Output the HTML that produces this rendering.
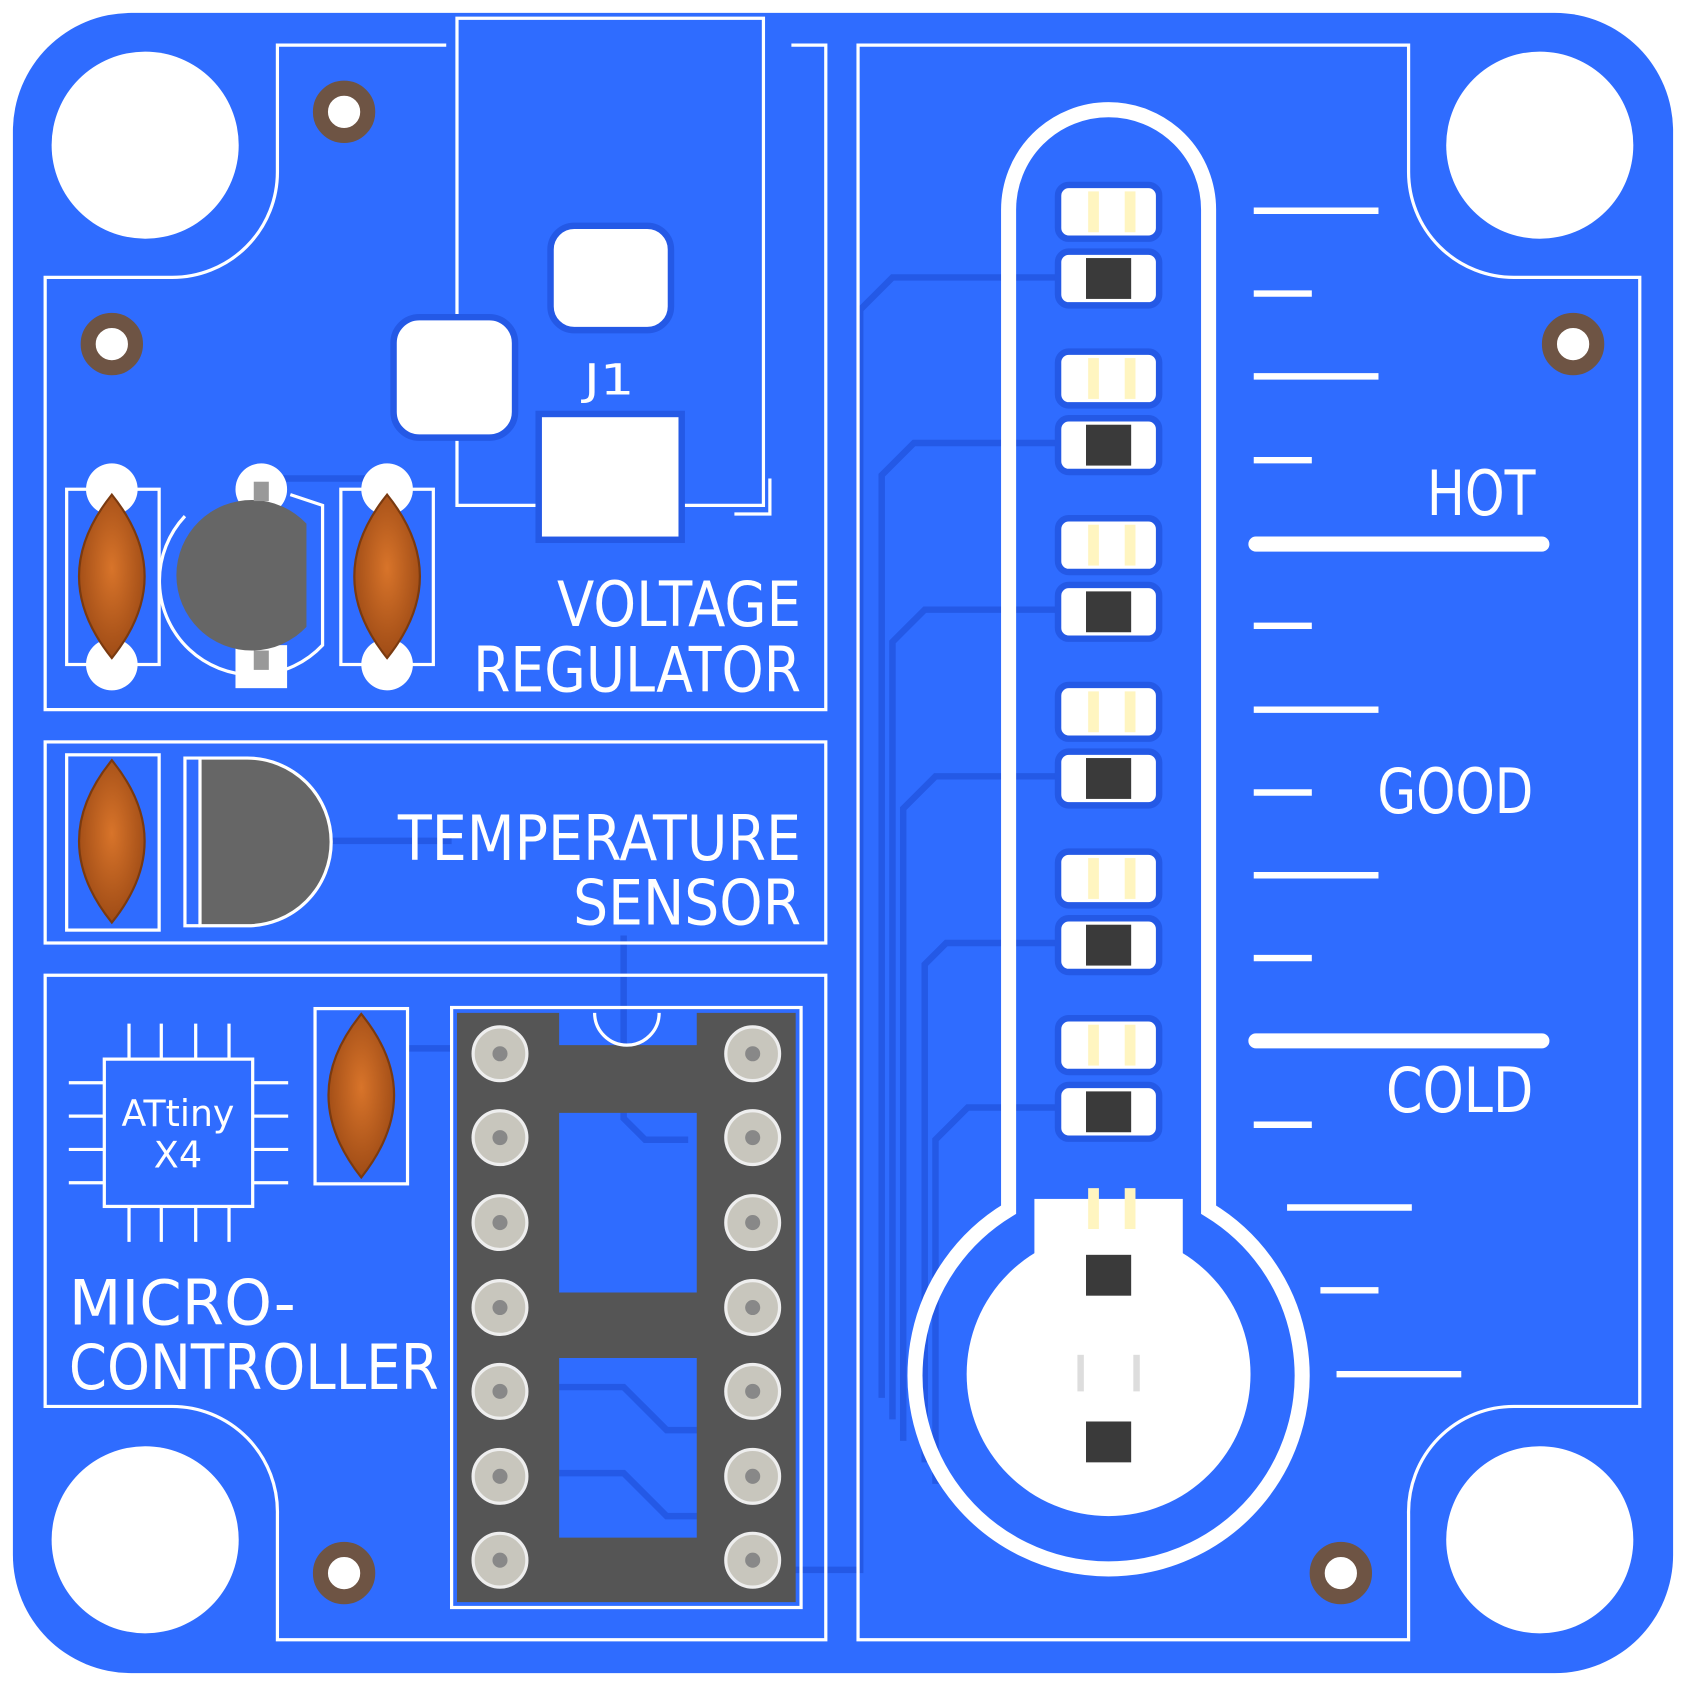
<!DOCTYPE html>
<html><head><meta charset="utf-8"><style>
html,body{margin:0;padding:0;background:#fff}
svg{display:block}
text{font-family:"DejaVu Sans","Liberation Sans",sans-serif;fill:#fff}
</style></head><body>
<svg width="1686" height="1686" viewBox="0 0 1568 1568" xmlns="http://www.w3.org/2000/svg">
<rect x="12" y="12" width="1544" height="1544" rx="110" fill="#2f6cff"/>
<g stroke="#2459e6" stroke-width="6" fill="none">
<path d="M990 258 H830 L800 288 V1460 H620"/>
<path d="M990 412 H850 L820 442 V1300"/>
<path d="M990 567 H860 L830 597 V1320"/>
<path d="M990 722 H870 L840 752 V1340"/>
<path d="M990 877 H880 L860 897 V1360"/>
<path d="M990 1030 H900 L870 1060 V1380"/>
<path d="M580 870 V1040 L600 1060 H640"/>
<path d="M520 1290 H580 L620 1330 H650"/>
<path d="M520 1370 H580 L620 1410 H650"/>
<path d="M240 445 H360"/>
<path d="M300 782 H420"/>
<path d="M380 975 H420"/>
</g>
<g fill="#fff"><circle cx="135" cy="135" r="87"/><circle cx="1432" cy="135" r="87"/><circle cx="135" cy="1432" r="87"/><circle cx="1432" cy="1432" r="87"/></g>
<g fill="#fff" stroke="#6e5444" stroke-width="14"><circle cx="320" cy="104" r="22"/><circle cx="104" cy="320" r="22"/><circle cx="1463" cy="320" r="22"/><circle cx="320" cy="1463" r="22"/><circle cx="1247" cy="1463" r="22"/></g>
<g stroke="#fff" stroke-width="3" fill="none">
<path d="M415 42 H258 V160 A98 98 0 0 1 160 258 H42 V660 H768 V42 H736"/>
<rect x="42" y="690" width="726" height="187"/>
<path d="M42 907 H768 V1525 H258 V1408 A98 98 0 0 0 160 1308 H42 Z"/>
<path d="M798 42 H1310 V160 A98 98 0 0 0 1408 258 H1525 V1308 H1408 A98 98 0 0 0 1310 1408 V1525 H798 Z"/>
<path d="M425 17 H710 V470 H425 Z"/>
<path d="M683 478 H716 V445"/>
<rect x="62" y="455" width="86" height="163"/>
<rect x="317" y="455" width="86" height="163"/>
<rect x="62" y="702" width="86" height="163"/>
<rect x="293" y="938" width="86" height="163"/>
<rect x="420" y="937" width="325" height="558"/>
<rect x="97" y="985" width="138" height="137"/>
<path d="M120 985 V952 M150 985 V952 M182 985 V952 M213 985 V952 M120 1122 V1155 M150 1122 V1155 M182 1122 V1155 M213 1122 V1155 M97 1007 H64 M97 1038 H64 M97 1069 H64 M97 1100 H64 M235 1007 H268 M235 1038 H268 M235 1069 H268 M235 1100 H268"/>
<path d="M172 480 A74 74 0 0 0 300 600 V470 L270 460"/>
</g>
<g fill="#fff" stroke="#2459e6" stroke-width="6">
<rect x="512" y="210" width="112" height="97" rx="22"/>
<rect x="366" y="295" width="113" height="112" rx="24"/>
<rect x="501" y="385" width="133" height="117"/>
</g>
<text x="543" y="367" font-size="40" textLength="47" lengthAdjust="spacingAndGlyphs">J1</text>
<g fill="#fff"><circle cx="104" cy="455" r="24"/><circle cx="104" cy="618" r="24"/><circle cx="360" cy="455" r="24"/><circle cx="360" cy="618" r="24"/><circle cx="243" cy="455" r="24"/><rect x="219" y="600" width="48" height="40"/></g>
<path d="M285 487 A70 70 0 1 0 285 583 Z" fill="#666"/>
<rect x="236" y="448" width="14" height="18" fill="#999"/>
<rect x="236" y="605" width="14" height="18" fill="#999"/>
<defs><radialGradient id="cg" cx="0.5" cy="0.45" r="0.6"><stop offset="0" stop-color="#d8742a"/><stop offset="1" stop-color="#9a4814"/></radialGradient></defs>
<g fill="url(#cg)" stroke="#7a3a10" stroke-width="2">
<path d="M104 460 Q165 536 104 612 Q43 536 104 460Z"/>
<path d="M360 460 Q421 536 360 612 Q299 536 360 460Z"/>
<path d="M104 707 Q165 782 104 858 Q43 782 104 707Z"/>
<path d="M336 943 Q397 1018 336 1095 Q275 1018 336 943Z"/>
</g>
<path d="M230 705 A78 78 0 0 1 230 861 H186 V705Z" fill="#666" stroke="#fff" stroke-width="3"/>
<path d="M186 705 H172 V861 H186" fill="none" stroke="#fff" stroke-width="3"/>
<g font-size="58">
<text x="518" y="582" textLength="227" lengthAdjust="spacingAndGlyphs">VOLTAGE</text>
<text x="440" y="643" textLength="305" lengthAdjust="spacingAndGlyphs">REGULATOR</text>
<text x="370" y="800" textLength="375" lengthAdjust="spacingAndGlyphs">TEMPERATURE</text>
<text x="533" y="860" textLength="212" lengthAdjust="spacingAndGlyphs">SENSOR</text>
<text x="64" y="1232" textLength="211" lengthAdjust="spacingAndGlyphs">MICRO-</text>
<text x="64" y="1292" textLength="344" lengthAdjust="spacingAndGlyphs">CONTROLLER</text>
<text x="1327" y="479" textLength="101" lengthAdjust="spacingAndGlyphs">HOT</text>
<text x="1281" y="756" textLength="145" lengthAdjust="spacingAndGlyphs">GOOD</text>
<text x="1289" y="1034" textLength="137" lengthAdjust="spacingAndGlyphs">COLD</text>
</g>
<text x="113" y="1047" font-size="34" textLength="105" lengthAdjust="spacingAndGlyphs">ATtiny</text>
<text x="143" y="1086" font-size="34" textLength="45" lengthAdjust="spacingAndGlyphs">X4</text>
<path d="M425 942 H520 V972 H648 V942 H740 V1490 H425Z M520 1035 V1202 H648 V1035Z M520 1263 V1430 H648 V1263Z" fill="#555" fill-rule="evenodd"/>
<path d="M553 942 A30 30 0 0 0 613 942" fill="none" stroke="#fff" stroke-width="3"/>
<g fill="#c8c6bd" stroke="#eee" stroke-width="3">
<circle cx="465" cy="980" r="25"/><circle cx="465" cy="1058" r="25"/><circle cx="465" cy="1137" r="25"/><circle cx="465" cy="1216" r="25"/><circle cx="465" cy="1294" r="25"/><circle cx="465" cy="1373" r="25"/><circle cx="465" cy="1451" r="25"/>
<circle cx="700" cy="980" r="25"/><circle cx="700" cy="1058" r="25"/><circle cx="700" cy="1137" r="25"/><circle cx="700" cy="1216" r="25"/><circle cx="700" cy="1294" r="25"/><circle cx="700" cy="1373" r="25"/><circle cx="700" cy="1451" r="25"/>
</g>
<g fill="#888"><circle cx="465" cy="980" r="7"/><circle cx="465" cy="1058" r="7"/><circle cx="465" cy="1137" r="7"/><circle cx="465" cy="1216" r="7"/><circle cx="465" cy="1294" r="7"/><circle cx="465" cy="1373" r="7"/><circle cx="465" cy="1451" r="7"/><circle cx="700" cy="980" r="7"/><circle cx="700" cy="1058" r="7"/><circle cx="700" cy="1137" r="7"/><circle cx="700" cy="1216" r="7"/><circle cx="700" cy="1294" r="7"/><circle cx="700" cy="1373" r="7"/><circle cx="700" cy="1451" r="7"/></g>
<path d="M938 1125 V195 A93 93 0 0 1 1124 195 V1125 A180 180 0 1 1 938 1125Z" fill="none" stroke="#fff" stroke-width="14"/>
<circle cx="1031" cy="1278" r="132" fill="#fff"/>
<rect x="962" y="1115" width="138" height="80" fill="#fff"/>
<g id="led">
<rect x="984" y="172" width="94" height="50" rx="10" fill="#fff" stroke="#2459e6" stroke-width="6"/>
<rect x="1012" y="178" width="10" height="38" fill="#fff5c0"/><rect x="1046" y="178" width="10" height="38" fill="#fff5c0"/>
<rect x="984" y="234" width="94" height="50" rx="10" fill="#fff" stroke="#2459e6" stroke-width="6"/>
<rect x="1010" y="240" width="42" height="38" fill="#3a3a3a"/>
</g>
<use href="#led" y="155"/><use href="#led" y="310"/><use href="#led" y="465"/><use href="#led" y="620"/><use href="#led" y="775"/>
<rect x="1012" y="1105" width="10" height="38" fill="#fff5c0"/><rect x="1046" y="1105" width="10" height="38" fill="#fff5c0"/>
<rect x="1010" y="1167" width="42" height="38" fill="#3a3a3a"/>
<rect x="1010" y="1322" width="42" height="38" fill="#3a3a3a"/>
<rect x="1002" y="1260" width="6" height="34" fill="#ddd"/><rect x="1054" y="1260" width="6" height="34" fill="#ddd"/>
<g stroke="#fff" stroke-width="6">
<path d="M1166 196 H1282 M1166 273 H1220 M1166 350 H1282 M1166 428 H1220 M1166 582 H1220 M1166 660 H1282 M1166 737 H1220 M1166 814 H1282 M1166 891 H1220 M1166 1046 H1220 M1197 1123 H1313 M1228 1200 H1282 M1243 1278 H1359"/>
</g>
<g stroke="#fff" stroke-width="14" stroke-linecap="round"><path d="M1168 506 H1434 M1168 968 H1434"/></g>
</svg>
</body></html>
